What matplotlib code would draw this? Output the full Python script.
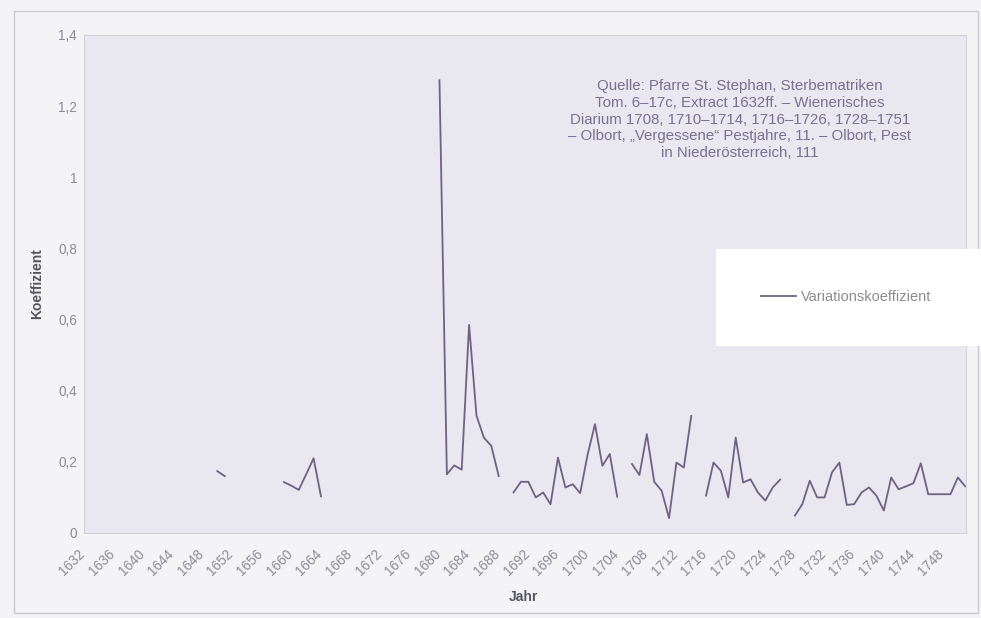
import numpy as np
import matplotlib
matplotlib.use("Agg")
import matplotlib.pyplot as plt
from matplotlib.patches import Rectangle
from matplotlib.transforms import ScaledTranslation

plt.rcParams['font.family'] = ['Liberation Sans', 'DejaVu Sans']

years = list(range(1632, 1752))

seg_years = [
    [1650, 1651],
    [1659, 1660, 1661, 1662, 1663, 1664],
    [1680, 1681, 1682, 1683, 1684, 1685, 1686, 1687, 1688],
    list(range(1690, 1705)),
    list(range(1706, 1715)),
    list(range(1716, 1727)),
    list(range(1728, 1752)),
]
seg_values = [
    [0.174, 0.160],
    [0.143, 0.133, 0.121, 0.165, 0.210, 0.103],
    [1.273, 0.165, 0.190, 0.178, 0.585, 0.330, 0.268, 0.245, 0.160],
    [0.114, 0.144, 0.144, 0.100, 0.114, 0.081, 0.212, 0.128, 0.137, 0.112,
     0.220, 0.306, 0.189, 0.222, 0.102],
    [0.194, 0.163, 0.278, 0.144, 0.119, 0.042, 0.198, 0.184, 0.329],
    [0.105, 0.198, 0.175, 0.100, 0.268, 0.142, 0.151, 0.114, 0.091, 0.128, 0.150],
    [0.049, 0.081, 0.147, 0.100, 0.100, 0.170, 0.198, 0.079, 0.081, 0.114,
     0.128, 0.105, 0.063, 0.156, 0.123, 0.131, 0.140, 0.196, 0.109, 0.109,
     0.109, 0.109, 0.156, 0.131],
]

# full series with gaps (NaN) for missing years
vals = {y: v for ys, vs in zip(seg_years, seg_values) for y, v in zip(ys, vs)}
series = np.array([vals.get(y, np.nan) for y in years])

xtick_years = list(range(1632, 1752, 4))
ytick_vals = [0, 0.2, 0.4, 0.6, 0.8, 1.0, 1.2, 1.4]
ytick_labels = ["0", "0,2", "0,4", "0,6", "0,8", "1", "1,2", "1,4"]

source_text = ("Quelle: Pfarre St. Stephan, Sterbematriken\n"
               "Tom. 6–17c, Extract 1632ff. – Wienerisches\n"
               "Diarium 1708, 1710–1714, 1716–1726, 1728–1751\n"
               "– Olbort, „Vergessene“ Pestjahre, 11. – Olbort, Pest\n"
               "in Niederösterreich, 111")

W, H = 981, 618
fig = plt.figure(figsize=(W / 100, H / 100), dpi=100, facecolor='#f4f4f6')
fig.patches.append(Rectangle((14 / W, 5 / H), 964 / W, 602 / H, transform=fig.transFigure,
                             fill=False, edgecolor='#cbcbd0', linewidth=1.0))

ax = fig.add_axes([84 / W, (H - 533) / H, (966 - 84) / W, (533 - 35) / H])
ax.set_facecolor('#e9e8f0')
for s in ax.spines.values():
    s.set_color('#d2d2d9')
    s.set_linewidth(0.8)

line_color = '#6e6283'
ax.plot(years, series, color=line_color, linewidth=1.3, label='Variationskoeffizient')

ax.set_xlim(1632.3, 1751.1)
ax.set_ylim(0, 1.4)
ax.set_yticks(ytick_vals)
ax.set_yticklabels(ytick_labels)
ax.set_xticks(xtick_years)
ax.set_xticklabels([str(y) for y in xtick_years], rotation=45, ha='right',
                   rotation_mode='anchor')
ax.tick_params(axis='both', length=0, colors='#8c8c96', labelsize=9.8)
ax.tick_params(axis='y', pad=5)
ax.tick_params(axis='x', pad=9)
shift = ScaledTranslation(-6 / 100, -1 / 100, fig.dpi_scale_trans)
for lbl in ax.get_xticklabels():
    lbl.set_transform(lbl.get_transform() + shift)

ax.set_ylabel('Koeffizient', fontsize=10, fontweight='bold', color='#55555e')
ax.yaxis.set_label_coords((37 - 84) / (966 - 84), 0.5)
ax.set_xlabel('Jahr', fontsize=10, fontweight='bold', color='#55555e')
ax.xaxis.set_label_coords((523 - 84) / (966 - 84), -(597 - 533) / 498)
ax.xaxis.label.set_va('center')
ax.yaxis.label.set_va('center')

ax.text((740 - 84) / (966 - 84), (533 - 79) / 498, source_text, transform=ax.transAxes,
        ha='center', va='top', fontsize=10.8, color='#7a7090', linespacing=1.25)

# legend box
fig.patches.append(Rectangle((716 / W, (H - 346) / H), (981 - 716) / W, (346 - 249) / H,
                             transform=fig.transFigure, facecolor='white', edgecolor='none',
                             zorder=5))
leg = fig.legend(loc='center left', bbox_to_anchor=(748 / W, (H - 297) / H),
                 frameon=False, fontsize=10.5, handlelength=2.4, handletextpad=0.35,
                 labelcolor='#8c8c96')
leg.set_zorder(6)

fig.savefig('out.png', dpi=100, facecolor=fig.get_facecolor())
